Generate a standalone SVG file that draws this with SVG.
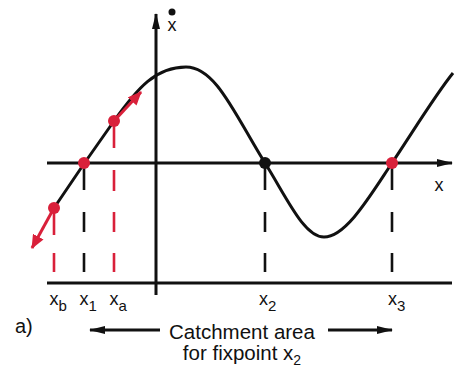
<svg xmlns="http://www.w3.org/2000/svg" width="459" height="375" viewBox="0 0 459 375">
<style>
text{font-family:"Liberation Sans",Arial,Helvetica,sans-serif;fill:#111}
.ax{stroke:#111;stroke-width:3;fill:none}
.curve{stroke:#111;stroke-width:3;fill:none}
.dk{stroke:#111;stroke-width:2.6;fill:none}
.dr{stroke:#d9203a;stroke-width:2.6;fill:none}
.lbl{font-size:18px}
.sub{font-size:15px}
.cap{font-size:20.5px}
</style>
<defs>
<marker id="ah" viewBox="0 0 16 10" refX="15" refY="5" markerWidth="16" markerHeight="10" markerUnits="userSpaceOnUse" orient="auto">
<path d="M0,1 L16,5 L0,9 Z" fill="#111"/>
</marker>
<marker id="ahr" viewBox="0 0 14 12" refX="13" refY="6" markerWidth="14" markerHeight="12" markerUnits="userSpaceOnUse" orient="auto">
<path d="M0,0 L14,6 L0,12 Z" fill="#d9203a"/>
</marker>
</defs>
<g id="axes">
<path class="ax" d="M47,163 H452" marker-end="url(#ah)"/>
<path class="ax" d="M156,295 V14" marker-end="url(#ah)"/>
<path class="ax" d="M47,283 H452"/>
<circle cx="172" cy="12" r="3.5" fill="#111"/>
<text class="lbl" x="172" y="31" text-anchor="middle">x</text>
<text class="lbl" x="439" y="191" text-anchor="middle">x</text>
</g>
<g id="curve">
<path class="curve" d="M54,208 C74,178 94,149 114,121 C138,87.4 156,67 186,67 C216,67 235,115 265,163 C287,198 304,237 324,237 C346,237 370,196 392,163 C414,130 436,94 453,73"/>
</g>
<g id="connectors">
<path class="dr" d="M54,208 V235 M54,253 V272"/>
<path class="dk" d="M84,163 V190 M84,212 V232 M84,253 V272"/>
<path class="dr" d="M114,121 V148 M114,170 V191 M114,212 V232 M114,253 V272"/>
<path class="dk" d="M265,163 V190 M265,212 V232 M265,253 V272"/>
<path class="dk" d="M392,163 V190 M392,212 V232 M392,253 V272"/>
<path d="M114,121 L141,92" stroke="#d9203a" stroke-width="3" fill="none" marker-end="url(#ahr)"/>
<path d="M54,208 L32,248" stroke="#d9203a" stroke-width="3" fill="none" marker-end="url(#ahr)"/>
<path class="ax" d="M160,330 H90" marker-end="url(#ah)"/>
<path class="ax" d="M328,330 H392" marker-end="url(#ah)"/>
</g>
<g id="xb"><circle cx="54" cy="208" r="6" fill="#d9203a"/><text class="lbl" x="49.5" y="305">x<tspan class="sub" dy="6">b</tspan></text></g>
<g id="x1"><circle cx="84" cy="163" r="6" fill="#d9203a"/><text class="lbl" x="79.5" y="305">x<tspan class="sub" dy="6">1</tspan></text></g>
<g id="xa"><circle cx="114" cy="121" r="6" fill="#d9203a"/><text class="lbl" x="109.5" y="305">x<tspan class="sub" dy="6">a</tspan></text></g>
<g id="x2"><circle cx="265" cy="163" r="6" fill="#111"/><text class="lbl" x="259" y="305">x<tspan class="sub" dy="6">2</tspan></text></g>
<g id="x3"><circle cx="392" cy="163" r="6" fill="#d9203a"/><text class="lbl" x="388" y="305">x<tspan class="sub" dy="6">3</tspan></text></g>
<g id="caption">
<text x="15" y="333" font-size="20">a)</text>
<text class="cap" x="242" y="339" text-anchor="middle">Catchment area</text>
<text class="cap" x="242" y="360" text-anchor="middle">for fixpoint x<tspan font-size="14" dy="5">2</tspan></text>
</g>
</svg>
